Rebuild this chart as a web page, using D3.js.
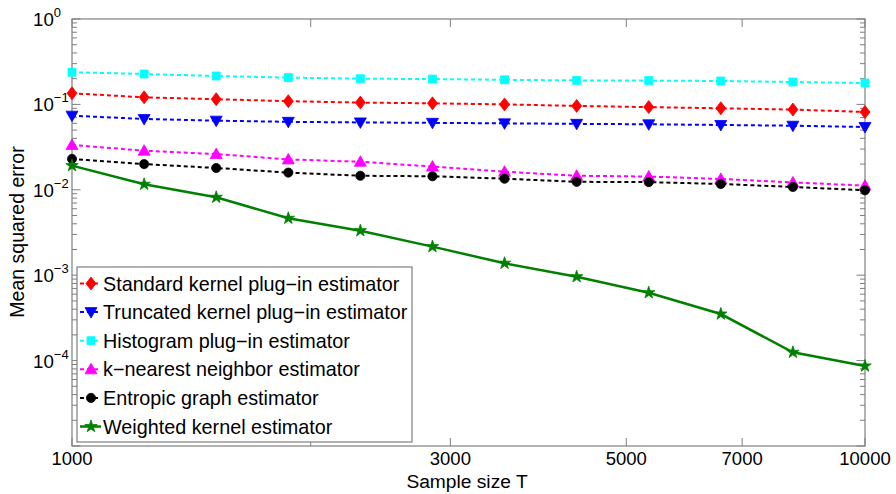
<!DOCTYPE html>
<html><head><meta charset="utf-8">
<script src="https://cdn.jsdelivr.net/npm/d3@7"></script>
<style>body{margin:0;background:#fff}svg{display:block}text{font-family:"Liberation Sans",Arial,Helvetica,sans-serif}</style>
</head><body>
<svg id="c" width="896" height="494"></svg>
<script>
const sampleSizes = [1000, 1233, 1520, 1874, 2310, 2848, 3511, 4329, 5337, 6579, 8111, 10000];
const standardKernel = [0.135, 0.121, 0.115, 0.109, 0.105, 0.103, 0.100, 0.096, 0.093, 0.090, 0.087, 0.0815];
const truncatedKernel = [0.0738, 0.0675, 0.0645, 0.0625, 0.0615, 0.0608, 0.0600, 0.0592, 0.0585, 0.0574, 0.0563, 0.0544];
const histogramPlugin = [0.238, 0.227, 0.215, 0.206, 0.200, 0.198, 0.194, 0.191, 0.190, 0.188, 0.183, 0.178];
const kNearest = [0.0335, 0.0287, 0.0262, 0.0227, 0.0213, 0.0187, 0.0163, 0.0146, 0.0143, 0.0134, 0.0122, 0.0112];
const entropicGraph = [0.0230, 0.0200, 0.0180, 0.0159, 0.0146, 0.0144, 0.0135, 0.0124, 0.0123, 0.0117, 0.0108, 0.00987];
const weightedKernel = [0.0192, 0.0116, 0.00817, 0.00464, 0.00332, 0.00216, 0.00138, 0.00096, 0.000624, 0.000351, 0.000125, 0.0000865];
const seriesNames = ["Standard kernel plug\u2212in estimator","Truncated kernel plug\u2212in estimator","Histogram plug\u2212in estimator","k\u2212nearest neighbor estimator","Entropic graph estimator","Weighted kernel estimator"];
const xTicks = [1000, 2000, 3000, 5000, 7000, 10000];
const xTickLabels = ["1000", "", "3000", "5000", "7000", "10000"];
const yTickExps = [0, -1, -2, -3, -4];
const xLabel = "Sample size T";
const yLabel = "Mean squared error";

const series = [
  {name: seriesNames[0], values: standardKernel, color: "#ff0000", marker: "diamond", dash: "4,3"},
  {name: seriesNames[1], values: truncatedKernel, color: "#0000ff", marker: "tridown", dash: "4,3"},
  {name: seriesNames[2], values: histogramPlugin, color: "#00ffff", marker: "square", dash: "4,3"},
  {name: seriesNames[3], values: kNearest, color: "#ff00ff", marker: "triup", dash: "4,3"},
  {name: seriesNames[4], values: entropicGraph, color: "#000000", marker: "circle", dash: "4,3"},
  {name: seriesNames[5], values: weightedKernel, color: "#008000", marker: "star", dash: null}
];

const L = 72, R = 865, T = 19, B = 446;
const x = d3.scaleLog().domain([1000, 10000]).range([L, R]);
const y = d3.scaleLog().domain([1e-5, 1]).range([B, T]);
const svg = d3.select("#c");
const axisColor = "#7f7f7f";

// box
svg.append("rect").attr("x", L).attr("y", T).attr("width", R - L).attr("height", B - T)
  .attr("fill", "none").attr("stroke", axisColor).attr("stroke-width", 1.2);

// x ticks (bottom & top, inward)
const g = svg.append("g");
xTicks.forEach((t, i) => {
  const px = x(t);
  g.append("line").attr("x1", px).attr("x2", px).attr("y1", B).attr("y2", B - 8).attr("stroke", axisColor);
  g.append("line").attr("x1", px).attr("x2", px).attr("y1", T).attr("y2", T + 8).attr("stroke", axisColor);
  if (xTickLabels[i]) g.append("text").attr("x", px).attr("y", 465).attr("text-anchor", "middle")
    .attr("font-size", "18.5px").attr("fill", "#000").text(xTickLabels[i]);
});

// y ticks major+minor, left & right
for (let e = -5; e <= 0; e++) {
  for (let m = 1; m <= 9; m++) {
    const v = m * Math.pow(10, e);
    if (v > 1 || v < 1e-5) continue;
    const py = y(v);
    const len = m === 1 ? 8.5 : 5;
    g.append("line").attr("x1", L).attr("x2", L + len).attr("y1", py).attr("y2", py).attr("stroke", axisColor);
    g.append("line").attr("x1", R).attr("x2", R - len).attr("y1", py).attr("y2", py).attr("stroke", axisColor);
  }
}
yTickExps.forEach(e => {
  const py = y(Math.pow(10, e));
  const t = g.append("text").attr("x", 33).attr("y", py + 7).attr("font-size", "18.7px").attr("fill", "#000");
  t.append("tspan").text("10");
  t.append("tspan").attr("font-size", "13px").attr("dy", -9).text(e === 0 ? "0" : "\u2212" + Math.abs(e));
});

// axis labels
svg.append("text").attr("x", 467).attr("y", 487.5).attr("text-anchor", "middle").attr("font-size", "19.2px").text(xLabel);
svg.append("text").attr("transform", "translate(24,232) rotate(-90)").attr("text-anchor", "middle").attr("font-size", "19.5px").text(yLabel);

function markerPath(type) {
  switch (type) {
    case "diamond": return "M0,-6.5L5,0L0,6.5L-5,0Z";
    case "tridown": return "M-6,-4.5L6,-4.5L0,6Z";
    case "triup": return "M-6,4.5L6,4.5L0,-6Z";
    case "square": return "M-4,-4H4V4H-4Z";
    case "circle": return d3.symbol(d3.symbolCircle, 66)();
    case "star": return d3.symbol(d3.symbolStar, 48)();
  }
}

const line = d3.line().x(d => x(d[0])).y(d => y(d[1]));
series.forEach(s => {
  const pts = sampleSizes.map((t, i) => [t, s.values[i]]);
  svg.append("path").attr("d", line(pts)).attr("fill", "none").attr("stroke", s.color)
    .attr("stroke-width", s.dash ? 2 : 2.5).attr("stroke-dasharray", s.dash);
  svg.append("g").selectAll("path").data(pts).join("path")
    .attr("transform", d => `translate(${x(d[0])},${y(d[1])})`)
    .attr("d", markerPath(s.marker)).attr("fill", s.color).attr("stroke", s.color).attr("stroke-width", 0.8);
});

// legend
const lg = svg.append("g");
lg.append("rect").attr("x", 77).attr("y", 267).attr("width", 335).attr("height", 175)
  .attr("fill", "#fff").attr("stroke", axisColor).attr("stroke-width", 1.2);
series.forEach((s, i) => {
  const cy = 283.5 + i * 28.6;
  lg.append("line").attr("x1", 80).attr("x2", 101).attr("y1", cy).attr("y2", cy)
    .attr("stroke", s.color).attr("stroke-width", s.dash ? 2 : 2.5).attr("stroke-dasharray", s.dash);
  lg.append("path").attr("transform", `translate(91,${cy})`).attr("d", markerPath(s.marker))
    .attr("fill", s.color).attr("stroke", s.color).attr("stroke-width", 0.8);
  lg.append("text").attr("x", 103).attr("y", cy + 7).attr("font-size", "19.8px").text(s.name);
});
</script>
</body></html>
